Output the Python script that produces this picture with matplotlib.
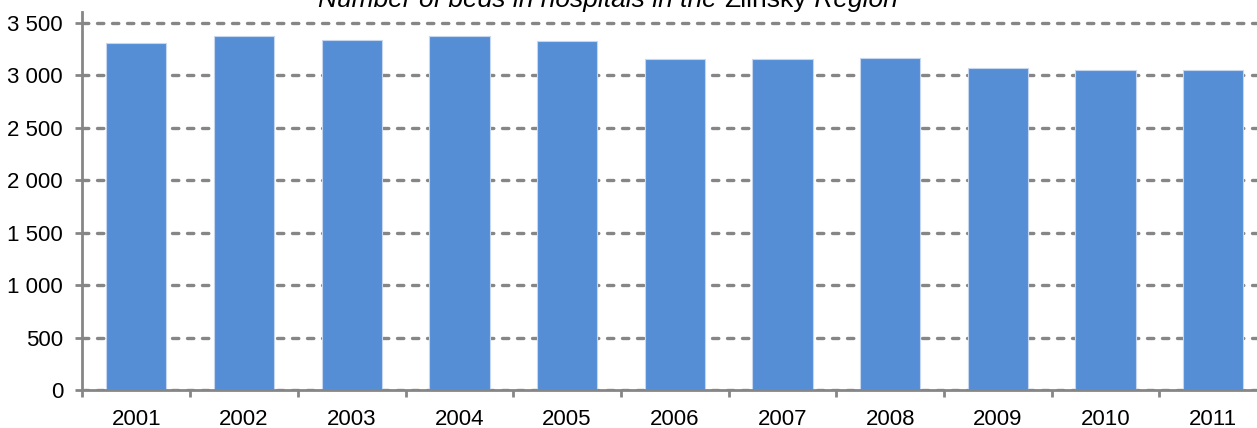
import numpy as np
import matplotlib.pyplot as plt
from matplotlib.ticker import FuncFormatter, FixedLocator

plt.rcParams["font.family"] = ["Liberation Sans", "DejaVu Sans"]
plt.rcParams["lines.dash_capstyle"] = "round"

years = ["2001", "2002", "2003", "2004", "2005", "2006",
         "2007", "2008", "2009", "2010", "2011"]
beds = [3305, 3380, 3342, 3380, 3325, 3154, 3154, 3170, 3070, 3054, 3054]

bar_color = "#558ed5"
axis_gray = "#868686"

fig = plt.figure(figsize=(12.57, 4.28), dpi=100)
ax = fig.add_axes([0.0656, 0.0888, 0.9424, 0.882])

x = np.arange(len(years))
ax.bar(x, beds, width=0.56, color=bar_color, edgecolor="#c5d6ee",
       linewidth=0.8, zorder=3)

ax.set_xlim(-0.5, len(years) - 0.5)
ax.set_ylim(0, 3600)

ax.yaxis.set_major_locator(FixedLocator(np.arange(0, 3501, 500)))
ax.yaxis.set_major_formatter(FuncFormatter(lambda v, p: f"{v:,.0f}".replace(",", " ")))
ax.grid(axis="y", color=axis_gray, linewidth=2.4, linestyle=(0, (1.9, 2.6)), zorder=1)

ax.set_xticks(x)
ax.set_xticklabels(years)
ax.xaxis.set_minor_locator(FixedLocator(np.arange(-0.5, len(years), 1.0)))
ax.tick_params(axis="x", which="major", length=0, pad=14, labelsize=16)
ax.tick_params(axis="x", which="minor", length=5, width=2, color=axis_gray, direction="out")
ax.tick_params(axis="y", length=5, width=2, color=axis_gray, pad=9, labelsize=16)

for s in ["top", "right"]:
    ax.spines[s].set_visible(False)
for s in ["left", "bottom"]:
    ax.spines[s].set_color(axis_gray)
    ax.spines[s].set_linewidth(2.0)
    ax.spines[s].set_zorder(4)

# title, partly cut off at the top edge as in the original
t1 = fig.text(318 / 1257, 1 - 7 / 428, "Number of beds in hospitals in the ",
              fontsize=19, style="italic", va="baseline", ha="left")
t2 = ax.annotate("Zlinsky", xy=(1, 0), xycoords=t1, fontsize=19,
                 va="bottom", ha="left", annotation_clip=False)
t3 = ax.annotate(" Region", xy=(1, 0), xycoords=t2, fontsize=19,
                 style="italic", va="bottom", ha="left", annotation_clip=False)

fig.savefig("out.png", dpi=100)
